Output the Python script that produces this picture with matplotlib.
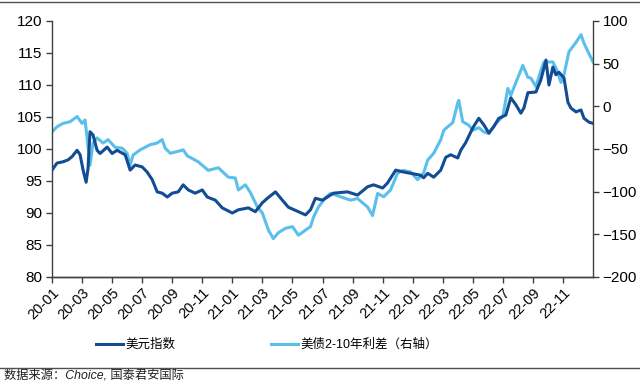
import matplotlib
matplotlib.use("Agg")
import matplotlib.pyplot as plt
from matplotlib.lines import Line2D

plt.rcParams['font.family'] = ['Liberation Sans', 'Noto Sans CJK SC', 'DejaVu Sans']

# x positions in months since 2020-01
dxy_m = [0, 0.33, 0.73, 1.07, 1.33, 1.67, 1.87, 2.07, 2.27, 2.4, 2.53, 2.73, 3.0, 3.2, 3.67, 4.0,
         4.33, 4.87, 5.2, 5.53, 6.0, 6.33, 6.67, 7.0, 7.33, 7.67, 8.0, 8.4, 8.73, 9.07, 9.53, 10.0,
         10.33, 10.87, 11.33, 12.0, 12.4, 13.07, 13.53, 14.0, 14.33, 14.87, 15.33, 15.73, 16.4,
         16.87, 17.2, 17.53, 18.0, 18.73, 19.67, 20.33, 21.0, 21.4, 22.0, 22.33, 22.87, 23.4,
         23.87, 24.53, 24.73, 25.0, 25.4, 25.87, 26.2, 26.53, 27.0, 27.2, 27.53, 28.0, 28.4,
         28.73, 29.07, 29.4, 29.73, 30.2, 30.53, 30.87, 31.2, 31.4, 31.67, 32.2, 32.53, 32.87,
         33.07, 33.33, 33.53, 33.73, 34.07, 34.33, 34.53, 34.87, 35.2, 35.4, 35.73, 36.0]
dxy_v = [96.7, 97.8, 98.0, 98.3, 98.8, 99.8, 99.1, 96.7, 94.8, 97.0, 102.7, 102.2, 99.8, 99.3, 100.3, 99.3,
         99.8, 99.1, 96.7, 97.5, 97.2, 96.4, 95.2, 93.3, 93.1, 92.5, 93.1, 93.3, 94.4, 93.6, 93.1, 93.6,
         92.5, 92.0, 90.8, 90.0, 90.5, 90.8, 90.2, 91.6, 92.3, 93.3, 92.0, 90.9, 90.2,
         89.7, 90.5, 92.3, 92.0, 93.1, 93.3, 92.8, 94.1, 94.4, 93.9, 94.7, 96.7, 96.4,
         96.2, 95.9, 95.5, 96.2, 95.6, 96.7, 98.7, 99.1, 98.6, 99.8, 101.0, 103.3, 104.8,
         103.8, 102.5, 103.5, 104.8, 105.3, 108.0, 106.9, 105.6, 106.4, 108.8, 108.9, 110.8, 113.9,
         110.0, 112.8, 111.6, 112.0, 111.1, 107.3, 106.4, 105.8, 106.1, 104.8, 104.2, 104.0]

spr_m = [0, 0.33, 0.73, 1.2, 1.67, 2.0, 2.2, 2.33, 2.53, 2.73, 3.0, 3.4, 3.73, 4.2, 4.67, 5.0, 5.2,
         5.4, 5.87, 6.53, 7.0, 7.33, 7.53, 7.87, 8.33, 8.73, 9.0, 9.73, 10.4, 11.07, 11.73, 12.2,
         12.4, 12.87, 13.2, 13.67, 14.0, 14.4, 14.73, 15.07, 15.53, 16.0, 16.4, 16.87, 17.2, 17.4,
         17.73, 18.2, 18.53, 19.2, 19.87, 20.33, 21.0, 21.33, 21.67, 22.07, 22.53, 23.0, 23.4,
         23.87, 24.33, 24.73, 25.0, 25.4, 25.87, 26.07, 26.33, 26.67, 27.0, 27.07, 27.33, 27.73,
         28.0, 28.4, 28.73, 29.07, 29.53, 30.0, 30.33, 30.53, 30.87, 31.33, 31.67, 31.87, 32.2,
         32.53, 32.73, 33.33, 33.53, 33.87, 34.07, 34.4, 34.87, 35.2, 35.4, 35.67, 36.0]
spr_v = [-30, -24, -20, -18, -12, -20, -16, -36, -69, -43, -37, -43, -39, -48, -49, -55, -69,
         -57, -51, -45, -43, -39, -49, -55, -53, -51, -58, -65, -75, -72, -83, -84,
         -98, -92, -101, -118, -125, -145, -155, -148, -143, -141, -151, -145, -141, -130,
         -118, -107, -102, -106, -110, -108, -118, -128, -102, -106, -98, -78, -75,
         -77, -86, -78, -63, -55, -39, -28, -24, -19, 4, 7, -18, -22,
         -28, -25, -30, -32, -20, -12, 21, 13, 28, 48, 34, 33, 23,
         42, 52, 52, 45, 28, 37, 64, 75, 84, 74, 64, 52]

tick_labels = ['20-01', '20-03', '20-05', '20-07', '20-09', '20-11', '21-01', '21-03', '21-05',
               '21-07', '21-09', '21-11', '22-01', '22-03', '22-05', '22-07', '22-09', '22-11']
left_ticks = [80, 85, 90, 95, 100, 105, 110, 115, 120]
right_ticks = [-200, -150, -100, -50, 0, 50, 100]

dark = '#124C94'
light = '#5BBFEC'
spine_c = '#404040'

fig = plt.figure(figsize=(6.4, 3.81), dpi=100)
ax = fig.add_axes([52/640, 1-277/381, (593-52)/640, (277-21)/381])
ax2 = ax.twinx()

l1, = ax.plot(dxy_m, dxy_v, color=dark, lw=2.2, zorder=3)
l2, = ax2.plot(spr_m, spr_v, color=light, lw=2.2, zorder=2)
ax.set_zorder(ax2.get_zorder() + 1)
ax.patch.set_visible(False)

ax.set_xlim(0, 36)
ax.set_ylim(80, 120)
ax2.set_ylim(-200, 100)
ax.set_yticks(left_ticks)
ax2.set_yticks(right_ticks)
ax.set_xticks(list(range(0, 36, 2)))
ax.set_xticklabels(tick_labels, rotation=45, ha='right', rotation_mode='anchor', fontsize=10.5)

for a in (ax, ax2):
    a.spines['top'].set_visible(False)
    for s in ('left', 'right', 'bottom'):
        a.spines[s].set_color(spine_c)
        a.spines[s].set_linewidth(1.0)
    a.tick_params(axis='y', labelsize=11, color=spine_c, length=4, width=1, pad=3)
ax.spines['right'].set_visible(False)
ax2.spines['left'].set_visible(False)
ax.tick_params(axis='x', color=spine_c, length=4, width=1, pad=2)

# legend
fig.legend([l1, l2], ['美元指数', '美债2-10年利差（右轴）'], loc='center',
           bbox_to_anchor=(267/640, 1-345/381), ncol=2, frameon=False,
           handlelength=2.15, handletextpad=0.25, columnspacing=7.6,
           prop={'family': ['Liberation Sans', 'Noto Sans CJK SC'], 'size': 9})

# frame lines
fig.add_artist(Line2D([0, 1], [1-2/381, 1-2/381], color='#505050', lw=1.0))
fig.add_artist(Line2D([0, 1], [1-368/381, 1-368/381], color='#505050', lw=1.0))
fig.text(4/640, 1-376/381, '数据来源：Choice, 国泰君安国际', fontsize=8.8, style='italic',
         va='center', ha='left', color='#202020',
         family=['Liberation Sans', 'Noto Sans CJK SC'])

fig.savefig('out.png', dpi=100)
